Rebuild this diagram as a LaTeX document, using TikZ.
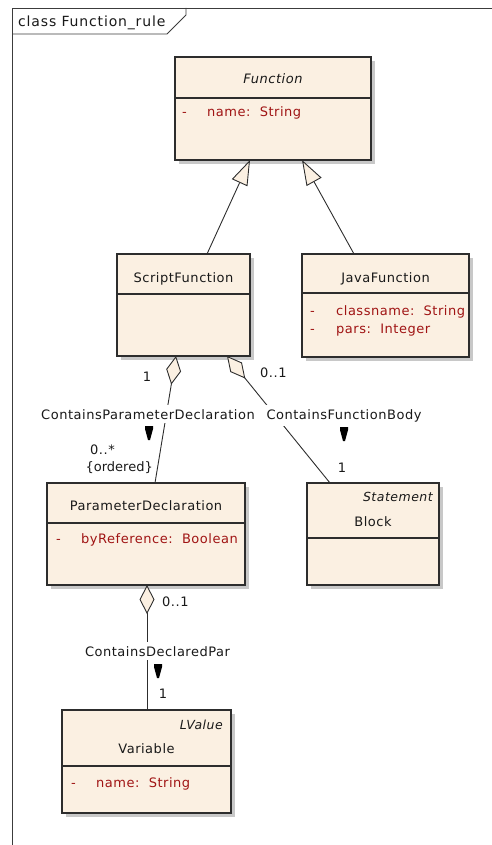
\documentclass[tikz,border=0pt]{standalone}
\usepackage{fontspec}
\setmainfont{DejaVu Sans}[LetterSpace=4]
\usetikzlibrary{arrows.meta,shadows}

\definecolor{boxfill}{RGB}{251,240,226}
\definecolor{boxline}{RGB}{45,45,45}
\definecolor{attrred}{RGB}{160,20,20}
\definecolor{shadowgray}{RGB}{200,200,200}
\definecolor{framegray}{RGB}{60,60,60}

\begin{document}
\begin{tikzpicture}[x=1pt,y=-1pt,
  every node/.style={font=\fontsize{13}{15}\selectfont, inner sep=0pt, text=black!90},
  classbox/.style={draw=boxline, line width=1.3pt, fill=boxfill, inner sep=0pt, outer sep=0pt,
    general shadow={shadow xshift=4pt, shadow yshift=-4pt, fill=shadowgray}},
  sepline/.style={draw=boxline, line width=1.1pt},
  cname/.style={anchor=base},
  stereo/.style={anchor=base east, font=\fontsize{12.5}{15}\selectfont\itshape},
  attr/.style={anchor=base west, text=attrred},
  lbl/.style={anchor=base, fill=white, inner sep=4pt},
  mult/.style={anchor=base},
  conn/.style={draw=boxline, line width=0.9pt},
  gen/.style={conn, -{Triangle[length=25pt, width=17pt, fill=boxfill, line join=miter]}},
  agg/.style={conn, -{Diamond[length=29pt, width=15pt, fill=boxfill, line join=miter]}},
  dirmark/.pic={\fill[black] (-4,0) -- (4,0) -- (4,3) -- (1,14) -- (-1,14) -- (-4,3) -- cycle;}
]
\useasboundingbox (0,0) rectangle (492,845);

% diagram frame with its name tab
\draw[framegray, line width=0.9pt] (12,845) -- (12,8) -- (492,8);
\draw[framegray, line width=0.9pt] (12,34) -- (167,34) -- (186,15) -- (186,8);
\node[anchor=base west, font=\fontsize{14}{16}\selectfont\addfontfeatures{LetterSpace=6}] (frametitle) at (18,27) {class Function\_rule};

% Function
\node[classbox, minimum width=196pt, minimum height=103pt] (fn) at (273,108.5) {};
\node[cname, font=\fontsize{13}{15}\selectfont\itshape] (fnname) at ([yshift=-27pt]fn.north) {Function};
\draw[sepline] ([yshift=-41pt]fn.north west) -- ([yshift=-41pt]fn.north east);
\node[attr] (fnattr) at ([xshift=7pt,yshift=-60pt]fn.north west) {\makebox[25pt][l]{-}name:~~String};

% ScriptFunction
\node[classbox, minimum width=133pt, minimum height=102pt] (sf) at (183.5,305) {};
\node[cname] (sfname) at ([yshift=-28pt]sf.north) {ScriptFunction};
\draw[sepline] ([yshift=-40pt]sf.north west) -- ([yshift=-40pt]sf.north east);

% JavaFunction
\node[classbox, minimum width=167pt, minimum height=103pt] (jf) at (385.5,305.5) {};
\node[cname] (jfname) at ([yshift=-28pt]jf.north) {JavaFunction};
\draw[sepline] ([yshift=-39pt]jf.north west) -- ([yshift=-39pt]jf.north east);
\node[attr] (jfattra) at ([xshift=8pt,yshift=-61pt]jf.north west) {\makebox[26pt][l]{-}classname:~~String};
\node[attr] (jfattrb) at ([xshift=8pt,yshift=-79pt]jf.north west) {\makebox[26pt][l]{-}pars:~~Integer};

% ParameterDeclaration
\node[classbox, minimum width=198pt, minimum height=102pt] (pd) at (146,534) {};
\node[cname] (pdname) at ([yshift=-27pt]pd.north) {ParameterDeclaration};
\draw[sepline] ([yshift=-40pt]pd.north west) -- ([yshift=-40pt]pd.north east);
\node[attr] (pdattr) at ([xshift=9pt,yshift=-60pt]pd.north west) {\makebox[25pt][l]{-}byReference:~~Boolean};

% Block
\node[classbox, minimum width=132pt, minimum height=102pt] (bl) at (373,534) {};
\node[stereo] (blstereo) at ([xshift=-6pt,yshift=-18pt]bl.north east) {Statement};
\node[cname] (blname) at ([yshift=-43pt]bl.north) {Block};
\draw[sepline] ([yshift=-55pt]bl.north west) -- ([yshift=-55pt]bl.north east);

% Variable
\node[classbox, minimum width=169pt, minimum height=103pt] (var) at (146.5,761.5) {};
\node[stereo] (varstereo) at ([xshift=-8pt,yshift=-19pt]var.north east) {LValue};
\node[cname] (varname) at ([yshift=-43pt]var.north) {Variable};
\draw[sepline] ([yshift=-56pt]var.north west) -- ([yshift=-56pt]var.north east);
\node[attr] (varattr) at ([xshift=9pt,yshift=-77pt]var.north west) {\makebox[25pt][l]{-}name:~~String};

% generalizations
\draw[gen] ([xshift=23.5pt]sf.north) -- ([xshift=-23pt]fn.south);
\draw[gen] ([xshift=-31.5pt]jf.north) -- ([xshift=29pt]fn.south);

% aggregations
\draw[agg] ([xshift=9pt]pd.north) -- ([xshift=-7.5pt]sf.south);
\draw[agg] ([xshift=-43pt]bl.north) -- ([xshift=43.5pt]sf.south);
\draw[agg] ([xshift=0.5pt]var.north) -- ([xshift=1pt]pd.south);

% association names and reading directions
\node[lbl] (cpd) at (148,419) {ContainsParameterDeclaration};
\node[lbl] (cfb) at (344,419) {ContainsFunctionBody};
\node[lbl] (cdp) at (157.5,656) {ContainsDeclaredPar};
\pic at (149,426) {dirmark};
\pic at (344,427) {dirmark};
\pic at (158,664) {dirmark};

% multiplicities
\node[mult] (m1) at (147,381) {1};
\node[mult, anchor=base west] (m2) at (260,377) {0..1};
\node[mult, anchor=base west] (m3) at (90,454) {0..*};
\node[mult, anchor=base east, font=\fontsize{13}{15}\selectfont\addfontfeatures{LetterSpace=0}] (m4) at (153,471) {\{ordered\}};
\node[mult] (m5) at (342,472) {1};
\node[mult, anchor=base west] (m6) at (162,606) {0..1};
\node[mult] (m7) at (163,698) {1};
\end{tikzpicture}
\end{document}
